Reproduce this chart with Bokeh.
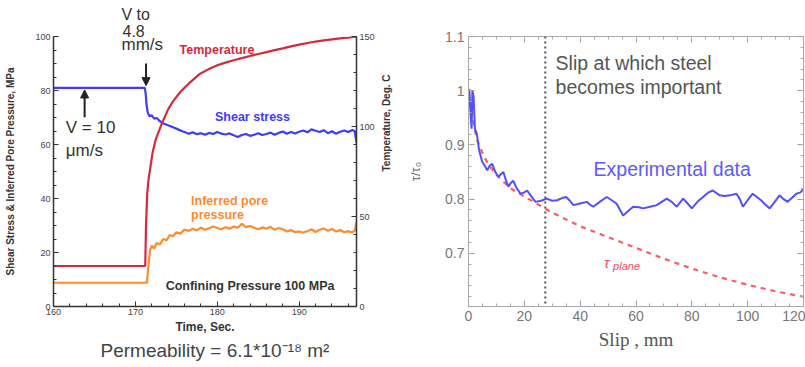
import numpy as np
from bokeh.plotting import figure
from bokeh.models import (Range1d, LinearAxis, Label, Arrow, NormalHead, Span, Title,
                          SingleIntervalTicker, FixedTicker, NumeralTickFormatter,
                          CustomJSTickFormatter)
from bokeh.layouts import row
from bokeh.embed import file_html
from bokeh.resources import INLINE

# ---------------- data: left panel (time series) ----------------
shear_time = [160, 171.15, 171.25, 171.35, 171.5, 171.7, 172.0, 172.3, 172.6, 173.0, 173.4,
              173.9, 174.6, 175.2, 175.8,
              176.0, 176.5, 177.0, 177.5, 178.0, 178.5, 179.0, 179.5, 180.0, 180.5, 181.0,
              181.5, 182.0, 182.5, 183.0, 183.5, 184.0, 184.5, 185.0, 185.5, 186.0, 186.5,
              187.0, 187.5, 188.0, 188.5, 189.0, 189.5, 190.0, 190.5, 191.0, 191.5, 192.0,
              192.5, 193.0, 193.5, 194.0, 194.5, 195.0, 195.5, 196.0, 196.5, 196.8, 197.0]
shear_stress = [81, 81, 79, 75, 72, 70.5, 70.8, 69.6, 69.8, 68.6, 67.8,
                67.2, 66.4, 65.6, 64.8,
                64.6, 64.0, 64.5, 63.8, 64.2, 63.6, 64.3, 63.9, 64.6, 64.0, 63.7,
                64.1, 63.4, 62.8, 63.5, 63.9, 63.2, 63.6, 64.2, 63.5, 63.9, 64.4,
                63.6, 64.3, 64.8, 64.0, 64.6, 64.1, 64.7, 65.2, 64.5, 65.6, 65.1,
                64.6, 65.3, 64.2, 64.9, 64.0, 64.7, 65.2, 64.6, 65.4, 64.8, 60.5]

pore_time = [160, 171.4, 171.45, 171.55, 171.65, 171.8, 172.0, 172.3, 172.6, 173.0, 173.4,
             173.8, 174.2, 174.6, 175.0, 175.5, 176.0, 176.5, 177.0, 177.5, 178.0, 178.5,
             179.0, 179.5, 180.0, 180.5, 181.0, 181.5, 182.0, 182.5, 183.0, 183.5, 184.0,
             184.5, 185.0, 185.5, 186.0, 186.5, 187.0, 187.5, 188.0, 188.5, 189.0, 189.5,
             190.0, 190.5, 191.0, 191.5, 192.0, 192.5, 193.0, 193.5, 194.0, 194.5, 195.0,
             195.5, 196.0, 196.5, 196.8, 197.0]
pore_pressure = [8.8, 8.8, 10, 14, 17, 21, 22.5, 21.5, 23.5, 23, 25,
                 24.5, 26.5, 26, 27.5, 27, 28.5, 28, 28.8, 28.2, 29.2, 28.4,
                 29.0, 29.6, 29.1, 28.6, 29.4, 28.8, 29.6, 29.2, 30.6, 29.4, 29.8,
                 29.2, 28.6, 29.3, 28.8, 29.5, 28.4, 29.1, 28.6, 27.8, 28.3, 27.5,
                 27.8, 27.4, 27.9, 28.6, 27.6, 28.4, 28.9, 28.1, 28.7, 27.8, 28.3,
                 27.5, 27.9, 27.4, 28.2, 31.5]

temp_time = [160, 171.2, 171.3, 171.45, 171.6, 171.8, 172.1, 172.5, 173.2, 174.0, 174.6,
             175.5, 176.5, 177.8, 179, 180, 181, 182, 183, 184, 185, 186, 187, 188, 189,
             190, 191, 192, 193, 194, 195, 196, 197]
temperature = [22.5, 22.5, 45, 63, 70.5, 76.5, 85.5, 93, 101.3, 109.5, 114,
               119.3, 123.8, 129, 132, 134, 135.5, 136.8, 138, 139.2, 140.3, 141.3, 142.4,
               143.4, 144.5, 145.5, 146.4, 147.2, 147.8, 148.4, 149, 149.4, 150]

# ---------------- data: right panel (normalised stress vs slip) ----------------
slip_exp = [0.3, 0.8, 1.1, 1.4, 1.8, 2.3, 3.0, 3.8, 4.9, 5.8, 6.7, 7.6, 8.5, 9.6, 10.7,
            11.6, 12.5, 13.4, 14.3, 15.2, 16, 17.3, 18.6, 19.8, 21, 22.5, 24, 26, 28, 30,
            31.7, 33.5, 35, 36.3, 37.6, 40, 42.4, 43.5, 44.7, 47, 49.5, 51.3, 53, 55.4,
            57.2, 59, 61, 62.6, 65, 67.4, 69.2, 71, 72.8, 74.6, 76.9, 78.5, 80, 82, 84,
            85.8, 87.5, 90, 91.8, 93.6, 96, 97.2, 98.3, 100, 101.8, 104.8, 106.3, 107.9,
            109.7, 111.4, 112.9, 114.3, 116, 117.4, 118.8, 120]
stress_exp = [1.003, 0.95, 0.93, 1.0, 0.99, 0.93, 0.92, 0.89, 0.869, 0.862, 0.853, 0.862,
              0.865, 0.85, 0.841, 0.846, 0.85, 0.835, 0.823, 0.83, 0.834, 0.82, 0.81,
              0.812, 0.816, 0.805, 0.795, 0.797, 0.801, 0.797, 0.798, 0.802, 0.804, 0.797,
              0.789, 0.792, 0.795, 0.79, 0.786, 0.795, 0.804, 0.798, 0.792, 0.770, 0.778,
              0.786, 0.785, 0.783, 0.786, 0.789, 0.795, 0.801, 0.795, 0.786, 0.801, 0.792,
              0.783, 0.795, 0.804, 0.812, 0.816, 0.807, 0.806, 0.807, 0.81, 0.8, 0.786,
              0.798, 0.81, 0.798, 0.79, 0.783, 0.795, 0.807, 0.8, 0.795, 0.803, 0.81,
              0.812, 0.819]

slip_plane = [0, 1, 2, 3, 5, 7, 10, 15, 20, 25, 30, 40, 50, 60, 70, 80, 90, 100, 110, 120]
tau_plane = [1.0, 0.965, 0.935, 0.91, 0.885, 0.865, 0.845, 0.82, 0.805, 0.79, 0.775, 0.75,
             0.73, 0.71, 0.69, 0.672, 0.656, 0.642, 0.63, 0.62]

steel_slip = 27.5

# ---------------- styles ----------------
BLUE = "#3c3cff"
RED = "#d62a3c"
ORANGE = "#ff8a30"
DARK = "#333333"
SANS = "Liberation Sans"

def lab(p, x, y, text, color, size, style="normal", align="left", baseline="middle",
        font=SANS, lh=1.2):
    p.add_layout(Label(x=x, y=y, text=text, text_color=color, text_font_size=size,
                       text_font_style=style, text_align=align, text_baseline=baseline,
                       text_font=font, text_line_height=lh))

# ================= LEFT PANEL =================
p1 = figure(width=400, height=367, x_range=Range1d(160, 197), y_range=Range1d(0, 100),
            output_backend="svg", toolbar_location=None, title_location=None,
            min_border_left=53, min_border_right=43, min_border_top=36, min_border_bottom=58)
p1.outline_line_color = None
p1.grid.visible = False
p1.extra_y_ranges = {"temp": Range1d(0, 150)}

p1.line(shear_time, shear_stress, line_color=BLUE, line_width=2.2)
p1.line(pore_time, pore_pressure, line_color=ORANGE, line_width=2.2)
p1.line(temp_time, temperature, line_color=RED, line_width=2.2, y_range_name="temp")

def style_left_axis(ax):
    ax.axis_line_color = DARK
    ax.axis_line_width = 1.5
    ax.major_tick_line_color = DARK
    ax.minor_tick_line_color = DARK
    ax.major_tick_in = 5
    ax.major_tick_out = 0
    ax.minor_tick_in = 3
    ax.minor_tick_out = 0
    ax.major_label_text_font = SANS
    ax.major_label_text_font_size = "9px"
    ax.major_label_text_color = "#444444"
    ax.axis_label_text_font = SANS
    ax.axis_label_text_font_style = "bold"
    ax.axis_label_text_color = DARK

style_left_axis(p1.xaxis[0])
style_left_axis(p1.yaxis[0])
p1.xaxis.ticker = SingleIntervalTicker(interval=10, num_minor_ticks=5)
p1.yaxis.ticker = SingleIntervalTicker(interval=20, num_minor_ticks=4)
p1.xaxis.axis_label = "Time, Sec."
p1.xaxis.axis_label_text_font_size = "12px"
p1.xaxis.major_label_standoff = 2
p1.xaxis.axis_label_standoff = 2
p1.yaxis.axis_label = "Shear Stress & Inferred Pore Pressure, MPa"
p1.yaxis.axis_label_text_font_size = "10px"
p1.yaxis.major_label_standoff = 3
p1.yaxis.axis_label_standoff = 16

rax = LinearAxis(y_range_name="temp", ticker=SingleIntervalTicker(interval=50, num_minor_ticks=5))
style_left_axis(rax)
rax.major_label_standoff = 3
rax.axis_label = "Temperature, Deg. C"
rax.axis_label_text_font_size = "10px"
rax.axis_label_standoff = 9
try:
    rax.axis_label_orientation = np.pi / 2
except Exception:
    pass
p1.add_layout(rax, "right")

# texts above / below the frame
p1.add_layout(Title(text="4.8", align="left", offset=69, standoff=0, text_font=SANS,
                    text_font_size="16px", text_font_style="normal", text_color=DARK), "above")
p1.add_layout(Title(text="V to", align="left", offset=68, standoff=0, text_font=SANS,
                    text_font_size="16px", text_font_style="normal", text_color=DARK), "above")
p1.add_layout(Title(text="Permeability = 6.1*10⁻¹⁸ m²", align="left", offset=47, standoff=3,
                    text_font=SANS, text_font_size="19px", text_font_style="normal",
                    text_color="#444444"), "below")

lab(p1, 179.96, 95.0, "Temperature", RED, "12.5px", "bold", "center")
lab(p1, 184.3, 70.1, "Shear stress", BLUE, "12.5px", "bold", "center")
lab(p1, 176.8, 41.8, "Inferred pore\npressure", ORANGE, "12.5px", "bold", "left", "top", lh=1.0)
lab(p1, 184.0, 7.7, "Confining Pressure 100 MPa", DARK, "12.5px", "bold", "center")
lab(p1, 168.3, 96.9, "mm/s", DARK, "17px", "normal", "left")
lab(p1, 161.5, 66.4, "V = 10", DARK, "17px", "normal", "left")
lab(p1, 161.5, 57.6, "μm/s", DARK, "17px", "normal", "left")

p1.add_layout(Arrow(x_start=171.3, y_start=90.0, x_end=171.3, y_end=81.8, line_width=2,
                    line_color="#222222",
                    end=NormalHead(size=8, fill_color="#222222", line_color="#222222")))
p1.add_layout(Arrow(x_start=163.8, y_start=70.1, x_end=163.8, y_end=80.2, line_width=2,
                    line_color="#222222",
                    end=NormalHead(size=8, fill_color="#222222", line_color="#222222")))

# ================= RIGHT PANEL =================
p2 = figure(width=405, height=367, x_range=Range1d(0, 120), y_range=Range1d(0.602, 1.1),
            output_backend="svg", toolbar_location=None, title_location=None,
            min_border_left=68, min_border_right=2, min_border_top=35, min_border_bottom=61)
p2.outline_line_color = "#aaaaaa"
p2.grid.visible = False

p2.line(slip_plane, tau_plane, line_color="#ff5a6a", line_width=2.2, line_dash="5 5")
p2.line(slip_exp, stress_exp, line_color="#5050ff", line_width=2)
p2.add_layout(Span(location=steel_slip, dimension="height", line_color="#555555",
                   line_width=2, line_dash="2 3"))

xt = FixedTicker(ticks=[0, 20, 40, 60, 80, 100, 120], minor_ticks=list(np.arange(0, 121, 5)))
yt = FixedTicker(ticks=[0.7, 0.8, 0.9, 1.0, 1.1],
                 minor_ticks=list(np.round(np.arange(0.62, 1.1, 0.02), 2)))

def style_box_axis(ax, show_labels):
    ax.axis_line_color = "#aaaaaa"
    ax.major_tick_line_color = "#999999"
    ax.minor_tick_line_color = "#aaaaaa"
    ax.major_tick_in = 6
    ax.major_tick_out = 0
    ax.minor_tick_in = 3
    ax.minor_tick_out = 0
    if show_labels:
        ax.major_label_text_font = SANS
        ax.major_label_text_font_size = "14px"
        ax.major_label_text_color = "#777777"
        ax.major_label_standoff = 4
    else:
        ax.formatter = CustomJSTickFormatter(code="return ''")
        ax.major_label_text_font_size = "1px"
        ax.major_label_standoff = 0

p2.xaxis.ticker = xt
p2.yaxis.ticker = yt
p2.yaxis.formatter = NumeralTickFormatter(format="0.[0]")
style_box_axis(p2.xaxis[0], True)
style_box_axis(p2.yaxis[0], True)
p2.xaxis.axis_label = "Slip , mm"
p2.xaxis.axis_label_text_font = "Liberation Serif"
p2.xaxis.axis_label_text_font_style = "normal"
p2.xaxis.axis_label_text_font_size = "19px"
p2.xaxis.axis_label_text_color = "#555555"
p2.xaxis.axis_label_standoff = 5
p2.yaxis.axis_label = "τ/τ₀"
p2.yaxis.axis_label_text_font = SANS
p2.yaxis.axis_label_text_font_style = "normal"
p2.yaxis.axis_label_text_font_size = "13px"
p2.yaxis.axis_label_text_color = "#666666"
p2.yaxis.axis_label_standoff = 19

tax = LinearAxis(ticker=xt)
style_box_axis(tax, False)
p2.add_layout(tax, "above")
r2ax = LinearAxis(ticker=yt)
style_box_axis(r2ax, False)
p2.add_layout(r2ax, "right")

lab(p2, 31.2, 1.071, "Slip at which steel\nbecomes important", "#555555", "19.5px",
    "normal", "left", "top", lh=1.1)
lab(p2, 44.8, 0.855, "Experimental data", "#5a5aff", "19.5px", "normal", "left")
lab(p2, 48.5, 0.683, "τ", "#ff4a5a", "15px", "italic", "left")
lab(p2, 51.8, 0.676, "plane", "#ff4a5a", "11px", "italic", "left")

layout = row(p1, p2)
open("out.html", "w").write(file_html(layout, INLINE))
